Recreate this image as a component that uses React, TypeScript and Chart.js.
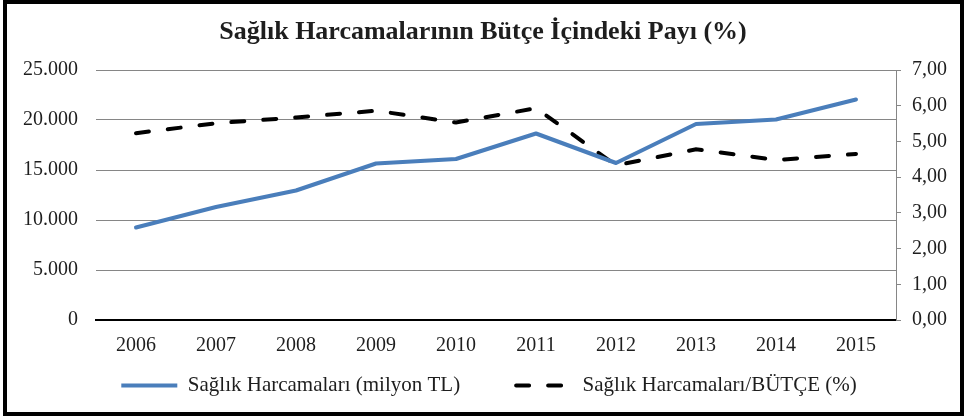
import React, { useEffect, useRef } from "react";
import { Chart, registerables } from "chart.js";

Chart.register(...registerables);

const title = "Sağlık Harcamalarının Bütçe İçindeki Payı (%)";
const years = ["2006", "2007", "2008", "2009", "2010", "2011", "2012", "2013", "2014", "2015"];
const spendingLabel = "Sağlık Harcamaları (milyon TL)";
const spending = [9250, 11300, 12950, 15650, 16100, 18650, 15700, 19600, 20050, 22050];
const shareLabel = "Sağlık Harcamaları/BÜTÇE (%)";
const share = [5.23, 5.51, 5.67, 5.86, 5.53, 5.93, 4.33, 4.78, 4.48, 4.65];

const SERIF = "'Liberation Serif', 'Times New Roman', serif";
const GRID = "#868686";
const TEXT = "#1e1e1e";
const LEGEND_PAD = 56;
const LEGEND_CENTER_Y = 385;
const LEGEND_SHIFT_X = 6;

const framePlugin = {
  id: "frame",
  afterLayout(chart: any) {
    const lg = chart.legend;
    if (lg) {
      lg.top = LEGEND_CENTER_Y - LEGEND_PAD - 10;
      lg.left += LEGEND_SHIFT_X;
      lg.right += LEGEND_SHIFT_X;
    }
  },
  afterDraw(chart: any) {
    const ctx = chart.ctx;
    ctx.save();
    ctx.strokeStyle = "#000";
    ctx.lineWidth = 4;
    ctx.strokeRect(5, 2, 957, 412);
    ctx.restore();
  },
};

export default function App() {
  const ref = useRef<HTMLCanvasElement | null>(null);

  useEffect(() => {
    document.body.style.margin = "0";
    const canvas = ref.current;
    if (!canvas) return;
    const chart = new Chart(canvas, {
      type: "line",
      data: {
        labels: years,
        datasets: [
          {
            label: spendingLabel,
            data: spending,
            yAxisID: "y",
            borderColor: "#4A7EBB",
            backgroundColor: "#4A7EBB",
            borderWidth: 4,
            pointRadius: 0,
            tension: 0,
            borderCapStyle: "round",
            borderJoinStyle: "round",
          },
          {
            label: shareLabel,
            data: share,
            yAxisID: "y1",
            borderColor: "#000000",
            backgroundColor: "#000000",
            borderWidth: 4,
            borderDash: [13, 19],
            borderCapStyle: "round",
            pointRadius: 0,
            tension: 0,
          },
        ],
      },
      options: {
        responsive: false,
        animation: false,
        layout: { padding: { left: 0, right: 0, top: 0, bottom: 20 } },
        plugins: {
          title: {
            display: true,
            text: title,
            color: TEXT,
            font: { family: SERIF, size: 26, weight: "bold" },
            padding: { top: 16.4, bottom: 22.4 },
          },
          legend: {
            position: "bottom",
            maxHeight: 41,
            labels: {
              usePointStyle: true,
              pointStyle: "line",
              pointStyleWidth: 56,
              padding: LEGEND_PAD,
              color: TEXT,
              font: { family: SERIF, size: 21 },
              generateLabels: (ch: any) =>
                ch.data.datasets.map((ds: any, i: number) => ({
                  text: ds.label,
                  fillStyle: ds.borderColor,
                  strokeStyle: ds.borderColor,
                  lineWidth: 4,
                  lineDash: ds.borderDash || [],
                  lineCap: ds.borderDash ? "round" : "butt",
                  pointStyle: "line",
                  fontColor: TEXT,
                  hidden: false,
                  datasetIndex: i,
                })),
            },
          },
          tooltip: { enabled: false },
        },
        scales: {
          x: {
            offset: true,
            grid: { display: false, drawTicks: false },
            border: { display: true, color: "#000", width: 2 },
            ticks: { color: TEXT, font: { family: SERIF, size: 20 }, padding: 14, maxRotation: 0 },
            afterFit(scale: any) {
              scale.height = 38;
            },
          },
          y: {
            position: "left",
            min: 0,
            max: 25000,
            grid: {
              color: (c: any) => (c.tick && c.tick.value === 0 ? "rgba(0,0,0,0)" : GRID),
              drawTicks: false,
              lineWidth: 1,
            },
            border: { display: false },
            ticks: {
              stepSize: 5000,
              padding: 18,
              color: TEXT,
              font: { family: SERIF, size: 20 },
              callback: (v: any) => Number(v).toLocaleString("tr-TR"),
            },
            afterFit(scale: any) {
              scale.width = 96;
            },
          },
          y1: {
            position: "right",
            min: 0,
            max: 7,
            grid: { drawOnChartArea: false, drawTicks: true, tickLength: 5, color: GRID },
            border: { display: true, color: GRID, width: 1 },
            ticks: {
              stepSize: 1,
              padding: 11,
              color: TEXT,
              font: { family: SERIF, size: 20 },
              callback: (v: any) => Number(v).toFixed(2).replace(".", ","),
            },
            afterFit(scale: any) {
              scale.width = 70;
            },
          },
        },
      },
      plugins: [framePlugin],
    } as any);
    return () => chart.destroy();
  }, []);

  return (
    <div style={{ width: 966, height: 419, position: "relative", background: "#fff" }}>
      <canvas ref={ref} width={966} height={419} style={{ display: "block" }} />
    </div>
  );
}
